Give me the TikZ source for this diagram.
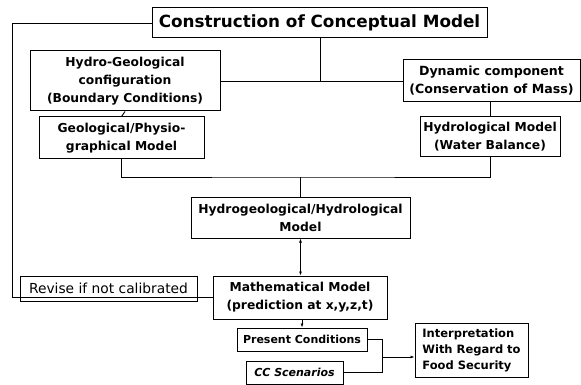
\documentclass[tikz,border=0pt]{standalone}
\usepackage{fontspec}
\setmainfont{DejaVu Sans}
\usetikzlibrary{arrows.meta}
\begin{document}
\begin{tikzpicture}[x=1pt,y=-1pt,
  box/.style={draw,line width=1pt,inner sep=0pt,align=center,font=\bfseries\fontsize{12.3}{18}\selectfont},
  conn/.style={line width=0.9pt},
  arr/.style={conn,-{Latex[length=4pt,width=3pt]}},
  darr/.style={conn,{Latex[length=4pt,width=3pt]}-{Latex[length=4pt,width=3pt]}}]
\useasboundingbox (0,0) rectangle (581,385);
\node[box,minimum width=335pt,minimum height=30pt,font=\bfseries\fontsize{16.8}{20}\selectfont] (title) at (319.5,23) {Construction of Conceptual Model};
\node[box,minimum width=190pt,minimum height=60pt] (hgc) at (125,81) {Hydro-Geological\\configuration\\(Boundary Conditions)};
\node[box,minimum width=177pt,minimum height=42pt,font=\bfseries\fontsize{12.6}{18}\selectfont] (dyn) at (491.5,81) {Dynamic component\\(Conservation of Mass)};
\node[box,minimum width=165pt,minimum height=42pt] (geo) at (121.5,138) {Geological/Physio-\\graphical Model};
\node[box,minimum width=140pt,minimum height=40pt] (hyd) at (490,137) {Hydrological Model\\(Water Balance)};
\node[box,minimum width=219pt,minimum height=41pt] (hgm) at (300.5,217.5) {Hydrogeological/Hydrological\\Model};
\node[box,minimum width=174pt,minimum height=43pt] (math) at (300,297.5) {Mathematical Model\\(prediction at x,y,z,t)};
\node[box,line width=0.9pt,minimum width=177pt,minimum height=25pt,font=\fontsize{13.8}{16}\selectfont] (rev) at (108.5,288.5) {Revise if not calibrated};
\node[box,minimum width=130pt,minimum height=23pt,font=\bfseries\fontsize{11}{13}\selectfont] (pres) at (302,339.5) {Present Conditions};
\node[box,minimum width=97pt,minimum height=23pt,font=\bfseries\itshape\fontsize{11}{13}\selectfont] (cc) at (294.5,372.5) {CC Scenarios};
\node[box,minimum width=113pt,minimum height=54pt,align=left,font=\bfseries\fontsize{11.5}{16}\selectfont] (int) at (471.5,350) {Interpretation\\With Regard to\\Food Security};
% connectors
\coordinate (lc1) at (12,23);
\coordinate (lc2) at (12,297);
\draw[conn] (title.west) -- (lc1) -- (lc2) -- (lc2 -| math.west);
\coordinate (j1) at (320,81);
\draw[conn] (title.south -| j1) -- (j1);
\draw[conn] (hgc.east) -- (dyn.west);
\draw[conn] (hgc.south) -- (geo.north);
\draw[conn] (hyd.north) -- (hyd.north |- dyn.south);
\coordinate (jb) at (300.5,177);
\draw[conn] (geo.south) |- (jb) -| (hyd.south);
\draw[conn] (jb) -- (hgm.north);
\draw[darr] (hgm.south) -- (hgm.south |- math.north);
\draw[arr] (math.south -| pres.north) -- (pres.north);
\coordinate (jr) at (382,357);
\draw[conn] (pres.east) -| (jr);
\draw[conn] (cc.east) -| (jr);
\draw[arr] (jr) -- (jr -| int.west);
\end{tikzpicture}
\end{document}
